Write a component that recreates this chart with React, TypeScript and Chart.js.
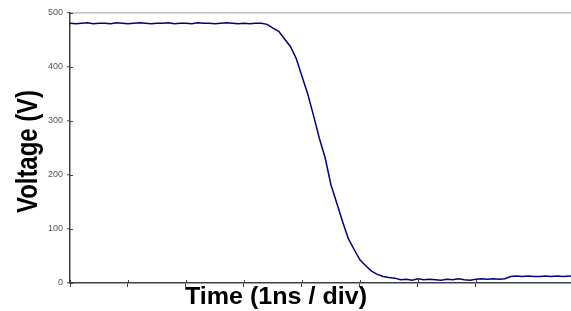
import React, { useEffect, useRef } from "react";
import { Chart, registerables } from "chart.js";

Chart.register(...registerables);

// Time in divisions (1 ns / div)
const times = [
  0, 0.1, 0.2, 0.3, 0.4, 0.5, 0.6, 0.7, 0.8, 0.9,
  1.0, 1.1, 1.2, 1.3, 1.4, 1.5, 1.6, 1.7, 1.8, 1.9,
  2.0, 2.1, 2.2, 2.3, 2.4, 2.5, 2.6, 2.7, 2.8, 2.9,
  3.0, 3.1, 3.2, 3.3, 3.4, 3.5, 3.6, 3.7, 3.8, 3.9,
  4.0, 4.1, 4.2, 4.3, 4.4, 4.5, 4.6, 4.7, 4.8, 4.9,
  5.0, 5.1, 5.2, 5.3, 5.4, 5.5, 5.6, 5.7, 5.8, 5.9,
  6.0, 6.1, 6.2, 6.3, 6.4, 6.5, 6.6, 6.7, 6.8, 6.9,
  7.0, 7.1, 7.2, 7.3, 7.4, 7.5, 7.6, 7.7, 7.8, 7.9,
  8.0, 8.1, 8.2, 8.3, 8.4, 8.5, 8.64,
];

// Voltage (V)
const volts = [
  481, 480, 481, 482, 480, 481, 481, 480, 482, 481,
  480, 481, 482, 481, 480, 481, 481, 482, 480, 481,
  481, 480, 482, 481, 481, 480, 481, 482, 481, 480,
  481, 480, 481, 481, 479, 472, 466, 452, 438, 416,
  383, 350, 310, 268, 232, 182, 148, 114, 82, 62,
  43, 32, 22, 16, 12, 10, 9, 6, 7, 5,
  8, 6, 7, 6, 5, 7, 6, 8, 6, 5,
  7, 8, 7, 8, 7, 8, 12, 13, 12, 13,
  12, 12, 13, 12, 13, 12, 13,
];

const yTicks = [0, 100, 200, 300, 400, 500];

const xTitle = "Time (1ns / div)";
const yTitle = "Voltage (V)";

export default function App() {
  const ref = useRef<HTMLCanvasElement | null>(null);

  useEffect(() => {
    if (!ref.current) return;
    const axisColor = "#404040";
    const chart = new Chart(ref.current, {
      type: "line",
      data: {
        datasets: [
          {
            data: times.map((t, i) => ({ x: t, y: volts[i] })),
            borderColor: "#000080",
            borderWidth: 1.5,
            pointRadius: 0,
            tension: 0,
            fill: false,
          },
        ],
      },
      options: {
        animation: false,
        responsive: false,
        maintainAspectRatio: false,
        layout: { padding: { top: 13, right: 0, left: 0, bottom: 0 } },
        plugins: { legend: { display: false }, tooltip: { enabled: false } },
        scales: {
          x: {
            type: "linear",
            min: 0,
            max: 8.64,
            ticks: { stepSize: 1, display: false },
            grid: {
              drawOnChartArea: false,
              drawTicks: true,
              tickLength: 4,
              tickColor: axisColor,
              tickWidth: 1,
            },
            border: { display: true, color: axisColor, width: 1.5 },
            afterFit: (s: any) => {
              s.height = 28;
            },
          },
          y: {
            type: "linear",
            min: 0,
            max: 500,
            afterBuildTicks: (s: any) => {
              s.ticks = yTicks.map((v) => ({ value: v }));
            },
            ticks: {
              color: "#555",
              font: { family: "Liberation Sans, Arial", size: 9 },
              padding: 4,
            },
            grid: {
              color: (c: any) => (c.tick && c.tick.value === 500 ? "#c0c0c0" : "rgba(0,0,0,0)"),
              lineWidth: 1.5,
              drawOnChartArea: true,
              tickLength: 3,
              tickColor: axisColor,
              tickWidth: 1,
            },
            border: { display: true, color: axisColor, width: 1.5 },
            afterFit: (s: any) => {
              s.width = 70;
            },
          },
        },
      },
      plugins: [
        {
          id: "innerTicksAndTitles",
          afterDraw: (c: any) => {
            const ctx = c.ctx;
            const xs = c.scales.x;
            const ys = c.scales.y;
            ctx.save();
            ctx.strokeStyle = axisColor;
            ctx.lineWidth = 1;
            ys.ticks.forEach((t: any) => {
              const py = Math.round(ys.getPixelForValue(t.value)) + 0.5;
              ctx.beginPath();
              ctx.moveTo(xs.left, py);
              ctx.lineTo(xs.left + 3, py);
              ctx.stroke();
            });
            xs.ticks.forEach((t: any) => {
              const px = Math.round(xs.getPixelForValue(t.value)) + 0.5;
              ctx.beginPath();
              ctx.moveTo(px, ys.bottom);
              ctx.lineTo(px, ys.bottom - 3);
              ctx.stroke();
            });
            ctx.restore();

            // X title
            ctx.save();
            ctx.fillStyle = "#000";
            ctx.font = "bold 23px 'Liberation Sans', Arial";
            ctx.textAlign = "center";
            ctx.textBaseline = "alphabetic";
            const wx = ctx.measureText(xTitle).width;
            ctx.translate(276, 304);
            ctx.scale(182 / wx, 1);
            ctx.fillText(xTitle, 0, 0);
            ctx.restore();

            // Y title (rotated, condensed)
            ctx.save();
            ctx.fillStyle = "#000";
            ctx.font = "bold 30px 'Liberation Sans', Arial";
            ctx.textAlign = "center";
            ctx.textBaseline = "alphabetic";
            const wy = ctx.measureText(yTitle).width;
            ctx.translate(37, 151.5);
            ctx.rotate(-Math.PI / 2);
            ctx.scale(123 / wy, 1);
            ctx.fillText(yTitle, 0, 0);
            ctx.restore();
          },
        },
      ],
    });
    return () => chart.destroy();
  }, []);

  return (
    <div style={{ position: "fixed", left: 0, top: 0, width: 571, height: 311, background: "#fff" }}>
      <canvas ref={ref} width={571} height={311} style={{ width: 571, height: 311 }} />
    </div>
  );
}
